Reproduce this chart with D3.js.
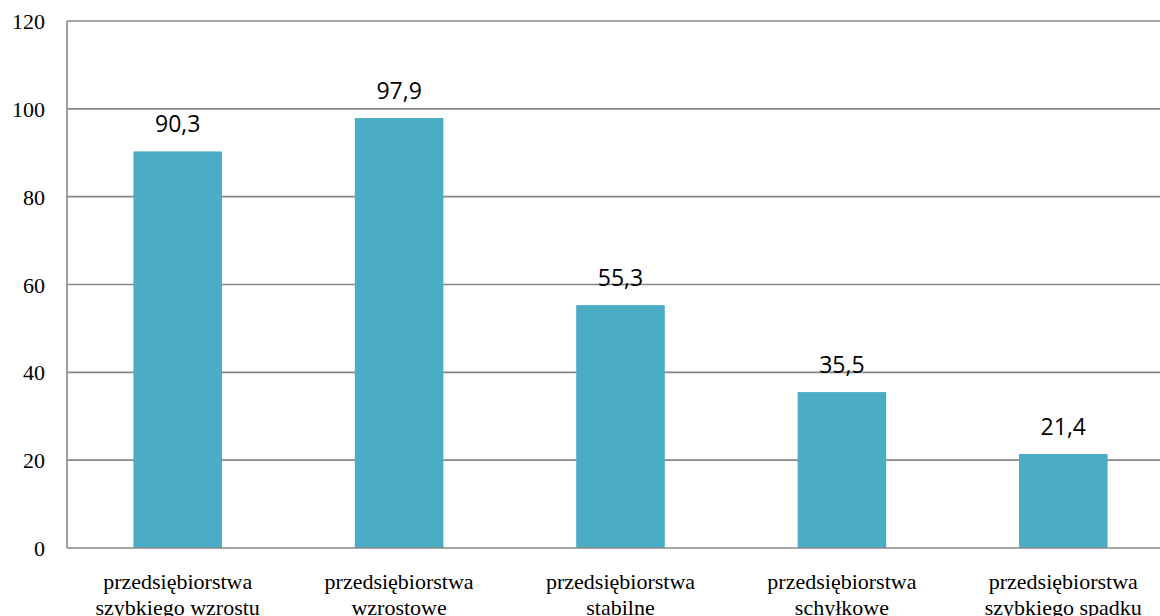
<!DOCTYPE html>
<html><head><meta charset="utf-8">
<script src="https://cdn.jsdelivr.net/npm/d3@7"></script>
<style>
body{margin:0;background:#fff;overflow:hidden}
</style>
</head><body>
<svg id="c" width="1160" height="616"></svg>
<script>
const categories = [
  ["przedsiębiorstwa","szybkiego wzrostu"],
  ["przedsiębiorstwa","wzrostowe"],
  ["przedsiębiorstwa","stabilne"],
  ["przedsiębiorstwa","schyłkowe"],
  ["przedsiębiorstwa","szybkiego spadku"]
];
const values = [90.3, 97.9, 55.3, 35.5, 21.4];
const yTicks = [0, 20, 40, 60, 80, 100, 120];

(function () {
const SERIF = "'Liberation Serif', 'Times New Roman', serif";
const SANS = "'Open Sans', 'Liberation Sans', sans-serif";
const svg = d3.select("#c");
const pLeft = 67, pRight = 1174, pTop = 21, pBottom = 548;
const x = d3.scaleBand().domain(d3.range(values.length)).range([pLeft, pRight]).paddingInner(0.6).paddingOuter(0.3);
const y = d3.scaleLinear().domain([0, 120]).range([pBottom, pTop]);

svg.append("g").selectAll("line").data(yTicks.filter(d => d > 0)).join("line")
  .attr("x1", pLeft).attr("x2", 1160)
  .attr("y1", d => y(d)).attr("y2", d => y(d))
  .attr("stroke", "#878787").attr("stroke-width", 1.6);

svg.append("g").selectAll("rect").data(values).join("rect")
  .attr("x", (d, i) => x(i)).attr("width", x.bandwidth())
  .attr("y", d => y(d)).attr("height", d => y(0) - y(d))
  .attr("fill", "#4BACC6");

svg.append("line").attr("x1", pLeft).attr("x2", pLeft).attr("y1", pTop).attr("y2", pBottom)
  .attr("stroke", "#878787").attr("stroke-width", 1.6);
svg.append("line").attr("x1", pLeft).attr("x2", 1160).attr("y1", pBottom).attr("y2", pBottom)
  .attr("stroke", "#878787").attr("stroke-width", 1.6);

svg.append("g").selectAll("text").data(yTicks).join("text")
  .style("font-family", SERIF, "important").style("font-size", "22px")
  .attr("x", 45).attr("y", d => y(d) + 8)
  .attr("text-anchor", "end")
  .attr("fill", "#000").text(d => d);

svg.append("g").selectAll("text").data(values).join("text")
  .style("font-family", SANS, "important").style("font-size", "23px")
  .attr("x", (d, i) => x(i) + x.bandwidth() / 2).attr("y", d => y(d) - 19)
  .attr("text-anchor", "middle")
  .attr("fill", "#000").text(d => d.toFixed(1).replace(".", ","));

const cg = svg.append("g").selectAll("text").data(categories).join("text")
  .style("font-family", SERIF, "important").style("font-size", "22px")
  .attr("text-anchor", "middle")
  .attr("fill", "#000");
cg.selectAll("tspan").data((d, i) => d.map(t => ({t, i}))).join("tspan")
  .style("font-family", SERIF, "important")
  .attr("x", d => x(d.i) + x.bandwidth() / 2)
  .attr("y", (d, j) => 589 + j * 26)
  .text(d => d.t);
})();
</script>
</body></html>
